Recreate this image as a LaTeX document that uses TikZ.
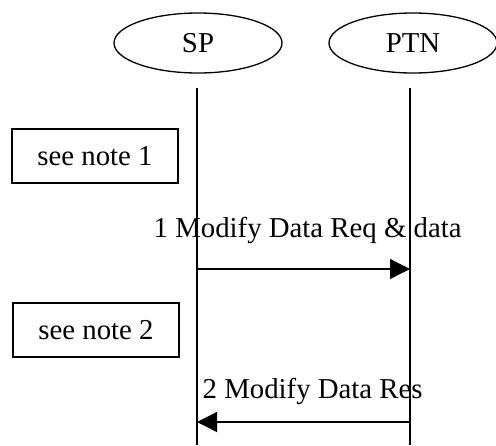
\documentclass[tikz,border=0pt]{standalone}
\usepackage{fontspec}
\setmainfont{Liberation Serif}
\usetikzlibrary{arrows.meta,shapes.geometric}

\begin{document}
\begin{tikzpicture}[x=0.5pt,y=-0.5pt,line width=0.65pt,
    font=\fontsize{14.4}{17}\selectfont,
    entity/.style={draw,ellipse,minimum width=84pt,minimum height=30pt,inner sep=0},
    notebox/.style={draw,rectangle,minimum width=83pt,minimum height=27pt,inner sep=0},
    msg/.style={-{Triangle[length=10pt,width=10pt]}}]
    \useasboundingbox (0,0) rectangle (496,445);

    \node[entity](sp) at (198, 43) {SP};
    \node[entity](ptn) at (413, 43) {PTN};

    % lifelines
    \coordinate (sptop) at (197, 88);
    \coordinate (spbot) at (197, 445);
    \coordinate (ptntop) at (410, 88);
    \coordinate (ptnbot) at (410, 445);
    \draw (sptop) -- (spbot);
    \draw (ptntop) -- (ptnbot);

    \node[notebox](note1) at (95, 156) {see note 1};
    \node[notebox](note2) at (96, 330) {see note 2};

    % messages
    \coordinate (req1) at (197, 269);
    \coordinate (req2) at (410, 269);
    \coordinate (res1) at (410, 422);
    \coordinate (res2) at (197, 422);
    \draw[msg] (req1) -- (req2);
    \draw[msg] (res1) -- (res2);
    \node[anchor=base west,inner sep=0](reqlabel) at (153, 237) {1 Modify Data Req \& data};
    \node[anchor=base west,inner sep=0](reslabel) at (202, 398) {2 Modify Data Res};
\end{tikzpicture}
\end{document}
